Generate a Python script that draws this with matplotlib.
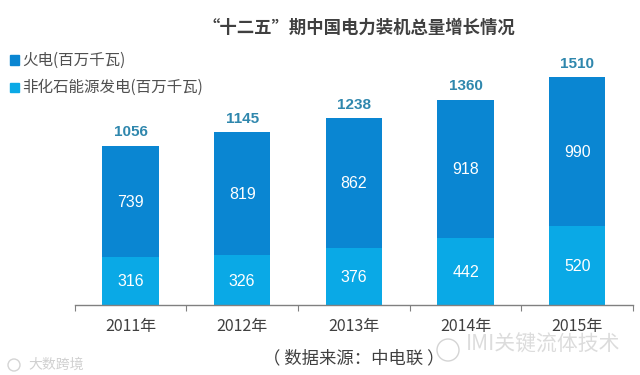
import matplotlib
matplotlib.use("Agg")
import matplotlib.pyplot as plt
import numpy as np

plt.rcParams['font.family'] = ['Noto Sans CJK SC', 'DejaVu Sans']

years = ["2011年", "2012年", "2013年", "2014年", "2015年"]
thermal = [739, 819, 862, 918, 990]
non_fossil = [316, 326, 376, 442, 520]
totals = [1056, 1145, 1238, 1360, 1510]

W, H = 640, 375
fig = plt.figure(figsize=(W / 100, H / 100), dpi=100)

# 坐标轴按像素位置放
left, right, bottom, top = 74.7, 633, 304.5, 20
ax = fig.add_axes([left / W, 1 - bottom / H, (right - left) / W, (bottom - top) / H])

x = np.arange(len(years))
ax.bar(x, non_fossil, width=0.505, color="#0aa9e6")
ax.bar(x, thermal, width=0.505, bottom=non_fossil, color="#0a86d2")

ax.set_xlim(-0.5, 4.5)
ax.set_ylim(0, (bottom - top) / 0.1507)

for i in range(len(years)):
    ax.text(i, non_fossil[i] / 2 - 8, str(non_fossil[i]), color="white", fontsize=11.5,
            ha="center", va="center", family="Liberation Sans")
    ax.text(i, non_fossil[i] + thermal[i] / 2 - 6, str(thermal[i]), color="white", fontsize=11.5,
            ha="center", va="center", family="Liberation Sans")
    ax.text(i, totals[i] + 42, str(totals[i]), color="#2f87ad", fontsize=11, fontweight="bold",
            ha="center", va="bottom", family="Liberation Sans")

for s in ["top", "left", "right"]:
    ax.spines[s].set_visible(False)
ax.spines["bottom"].set_color("#808080")
ax.spines["bottom"].set_linewidth(1)
ax.set_yticks([])
ax.set_xticks(np.arange(-0.5, 5, 1))
ax.set_xticklabels([])
ax.tick_params(axis="x", direction="out", length=4, color="#808080")
ax.set_xticks(x, minor=True)
ax.set_xticklabels(years, minor=True, fontsize=11.5, color="#404040")
ax.tick_params(axis="x", which="minor", length=0, pad=10)

fig.text(359 / W, 1 - 28 / H, "“十二五”期中国电力装机总量增长情况", fontsize=12.5, fontweight="bold",
         color="#404040", ha="center", va="center")

# 图例
for y0, c, label in [(60, "#0a86d2", "火电(百万千瓦)"), (87, "#0aa9e6", "非化石能源发电(百万千瓦)")]:
    fig.patches.append(plt.Rectangle((9.5 / W, 1 - (y0 + 4.5) / H), 9 / W, 9 / H, color=c,
                                     transform=fig.transFigure))
    fig.text(22 / W, 1 - y0 / H, label, fontsize=11.2, color="#505050", ha="left", va="center")

fig.text(354 / W, 1 - 358 / H, "（ 数据来源：中电联 ）", fontsize=12.5, color="#404040",
         ha="center", va="center")

# 水印
fig.text(466 / W, 1 - 345 / H, "IMI关键流体技术", fontsize=15, color="#dcdcdc", fontweight="light",
         ha="left", va="center")
fig.text(28 / W, 1 - 365 / H, "大数跨境", fontsize=10, color="#d0d0d0", ha="left", va="center")
for cx, cy, r in [(448, 350, 11), (14, 365, 6)]:
    fig.patches.append(plt.Circle((cx, H - cy), r, fill=False, ec="#d4d4d4", lw=1,
                                  transform=None))

fig.savefig("out.png", dpi=100)
